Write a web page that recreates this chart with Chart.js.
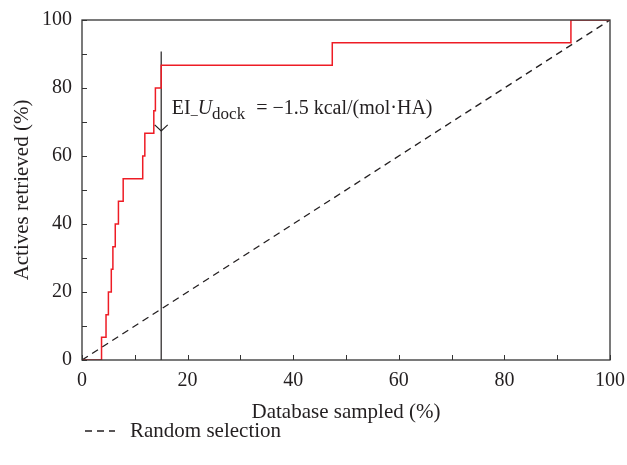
<!DOCTYPE html>
<html>
<head>
<meta charset="utf-8">
<script src="https://cdn.jsdelivr.net/npm/chart.js@4.4.1/dist/chart.umd.min.js"></script>
<style>
  html, body { margin: 0; padding: 0; background: #fff; }
  #wrap { width: 627px; height: 465px; }
</style>
</head>
<body>
<div id="wrap"><canvas id="efChart"></canvas></div>
<script>
// enrichment curve: database sampled (%) where each active is found, actives retrieved (%)
const sampledX = [0, 3.7, 4.55, 5.0, 5.55, 5.85, 6.3, 6.9, 7.8, 11.5, 11.9, 13.6, 13.9, 15.0, 47.4, 92.6, 100];
const retrievedY = [0, 6.67, 13.33, 20, 26.67, 33.33, 40, 46.67, 53.33, 60, 66.67, 73.33, 80, 86.67, 93.33, 100, 100];

// random selection diagonal
const randomX = [0, 100];
const randomY = [0, 100];

// cutoff marker at EI_Udock = -1.5 kcal/(mol.HA)
const cutoffX = [15, 15];
const cutoffY = [0, 90.7];
const arrowTipY = 67.4;
const labelPos = [17, 72.4];

const xTicks = [0, 20, 40, 60, 80, 100];
const yTicks = [0, 20, 40, 60, 80, 100];

const FONT = "'Liberation Serif', 'DejaVu Serif', serif";
const INK = '#231f20';

const toPoints = (xs, ys) => xs.map((x, i) => ({ x: x, y: ys[i] }));

const framePlugin = {
  id: 'frame',
  afterDatasetsDraw(chart) {
    const { ctx, chartArea: a, scales: { x, y } } = chart;
    ctx.save();
    ctx.strokeStyle = '#333';
    ctx.lineWidth = 1.3;
    ctx.strokeRect(a.left, a.top, a.right - a.left, a.bottom - a.top);
    // inward ticks every 10
    ctx.lineWidth = 1;
    ctx.beginPath();
    x.ticks.forEach(t => {
      const px = Math.round(x.getPixelForValue(t.value)) + 0.5;
      ctx.moveTo(px, a.bottom);
      ctx.lineTo(px, a.bottom - 5);
    });
    y.ticks.forEach(t => {
      const py = Math.round(y.getPixelForValue(t.value)) + 0.5;
      ctx.moveTo(a.left, py);
      ctx.lineTo(a.left + 5, py);
    });
    ctx.stroke();

    // arrow head on the cutoff line
    const ax = x.getPixelForValue(cutoffX[0]);
    const ay = y.getPixelForValue(arrowTipY);
    ctx.strokeStyle = INK;
    ctx.lineWidth = 1.2;
    ctx.beginPath();
    ctx.moveTo(ax - 6.5, ay - 6);
    ctx.lineTo(ax, ay);
    ctx.lineTo(ax + 6.5, ay - 6);
    ctx.stroke();

    // annotation text
    let tx = x.getPixelForValue(labelPos[0]);
    const ty = y.getPixelForValue(labelPos[1]);
    ctx.fillStyle = INK;
    ctx.textBaseline = 'alphabetic';
    ctx.textAlign = 'left';
    const part = (txt, font, dy, gap) => {
      ctx.font = font;
      ctx.fillText(txt, tx, ty + dy);
      tx += ctx.measureText(txt).width + (gap || 0);
    };
    part('EI', '20px ' + FONT, 0, 0);
    part('_', '14px ' + FONT, 0, 0);
    part('U', 'italic 20px ' + FONT, 0, 0);
    part('dock', '17px ' + FONT, 5, 11);
    part('= \u22121.5', '20px ' + FONT, 0, 5);
    part('kcal/(mol\u00b7HA)', '20px ' + FONT, 0, 0);

    // legend for random selection
    const ds = chart.data.datasets[1];
    const ly = a.bottom + 71;
    ctx.strokeStyle = ds.borderColor;
    ctx.lineWidth = ds.borderWidth;
    ctx.setLineDash(ds.borderDash);
    ctx.beginPath();
    ctx.moveTo(a.left + 3, ly);
    ctx.lineTo(a.left + 33, ly);
    ctx.stroke();
    ctx.setLineDash([]);
    ctx.font = '21px ' + FONT;
    ctx.textBaseline = 'middle';
    ctx.fillText(ds.label, a.left + 48, ly);
    ctx.restore();
  }
};

new Chart(document.getElementById('efChart').getContext('2d'), {
  type: 'line',
  data: {
    datasets: [
      {
        label: 'EI_Udock',
        data: toPoints(sampledX, retrievedY),
        borderColor: '#ee1c25',
        borderWidth: 1.5,
        stepped: 'before',
        pointRadius: 0,
        fill: false
      },
      {
        label: 'Random selection',
        data: toPoints(randomX, randomY),
        borderColor: INK,
        borderWidth: 1.3,
        borderDash: [7, 5],
        pointRadius: 0,
        fill: false
      },
      {
        label: 'Cutoff',
        data: toPoints(cutoffX, cutoffY),
        borderColor: INK,
        borderWidth: 1.2,
        pointRadius: 0,
        fill: false
      }
    ]
  },
  options: {
    responsive: true,
    maintainAspectRatio: false,
    animation: false,
    layout: { padding: { top: 20, right: 17, bottom: 40, left: 0 } },
    plugins: {
      legend: { display: false },
      tooltip: { enabled: false }
    },
    scales: {
      x: {
        type: 'linear',
        min: 0,
        max: 100,
        grid: { display: false, drawTicks: false },
        border: { display: false },
        afterFit: s => { s.height = 65; s.paddingLeft = 0; s.paddingRight = 0; },
        ticks: {
          stepSize: 10,
          padding: 9,
          color: INK,
          maxRotation: 0,
          font: { family: FONT, size: 20 },
          callback: v => (xTicks.includes(v) ? v : '')
        },
        title: {
          display: true,
          text: 'Database sampled (%)',
          color: INK,
          padding: { top: 0, bottom: 0 },
          font: { family: FONT, size: 21 }
        }
      },
      y: {
        type: 'linear',
        min: 0,
        max: 100,
        grid: { display: false, drawTicks: false },
        border: { display: false },
        afterFit: s => { s.width = 82; s.paddingTop = 0; s.paddingBottom = 0; },
        ticks: {
          stepSize: 10,
          padding: 10,
          color: INK,
          font: { family: FONT, size: 20 },
          callback: v => (yTicks.includes(v) ? v : '')
        },
        title: {
          display: true,
          text: 'Actives retrieved (%)',
          color: INK,
          padding: { top: 10, bottom: 0 },
          font: { family: FONT, size: 21 }
        }
      }
    }
  },
  plugins: [framePlugin]
});
</script>
</body>
</html>
